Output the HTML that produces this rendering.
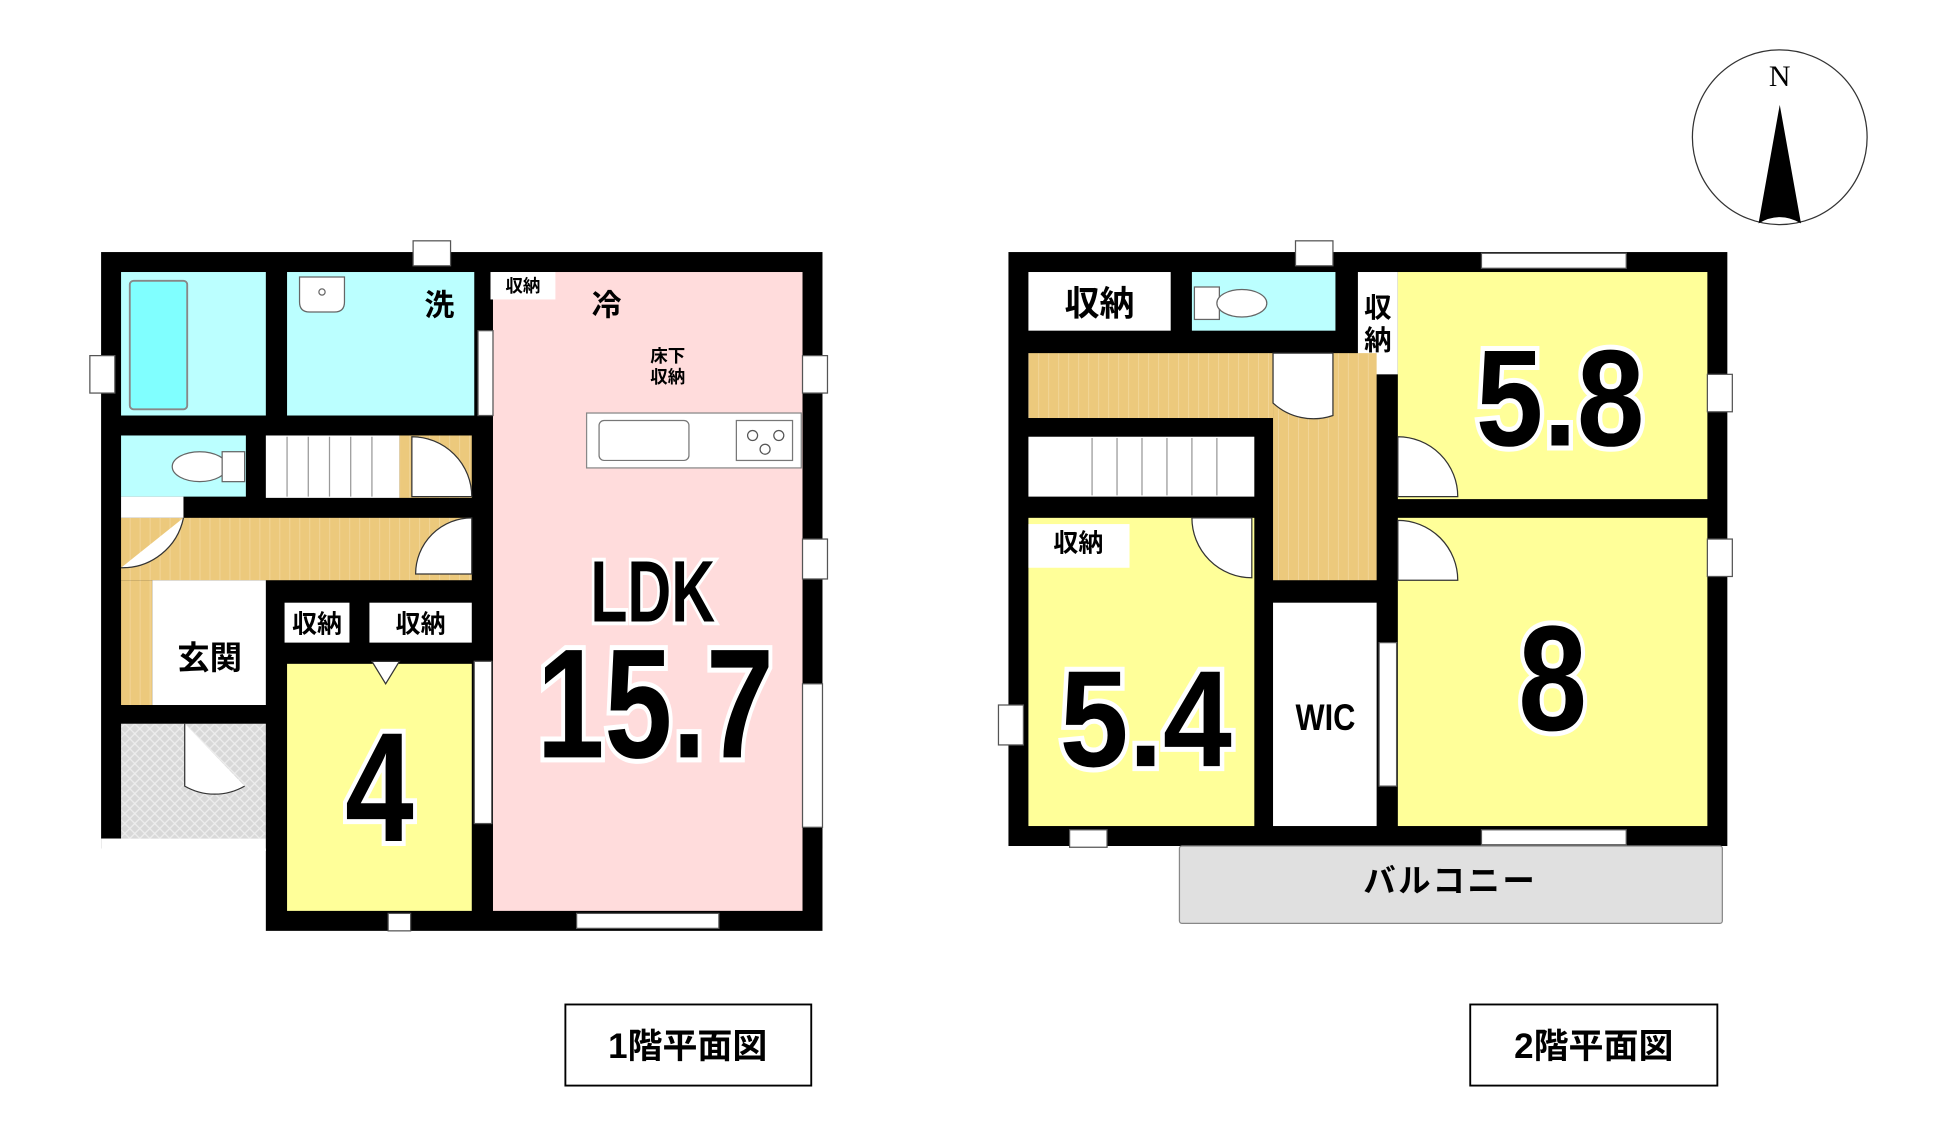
<!DOCTYPE html>
<html><head><meta charset="utf-8"><style>
html,body{margin:0;padding:0;background:#fff;}
svg{display:block;}
text{font-family:"Liberation Sans","Noto Sans CJK JP",sans-serif;font-weight:bold;}
</style></head><body>
<svg width="1947" height="1133" viewBox="0 0 1560 908" preserveAspectRatio="none" xmlns="http://www.w3.org/2000/svg">
<defs>
<pattern id="wood" width="8" height="8" patternUnits="userSpaceOnUse"><rect width="8" height="8" fill="#ecc97c"/><line x1="0" y1="0" x2="0" y2="8" stroke="#f5dca8" stroke-width="1"/></pattern>
<pattern id="hatch" width="8" height="8" patternUnits="userSpaceOnUse"><rect width="8" height="8" fill="#d8d8d8"/><path d="M0 0L8 8M8 0L0 8" stroke="#eee" stroke-width="1"/></pattern>
</defs>
<!-- ===== Floor 1 ===== -->
<rect x="81" y="202" width="578" height="478" fill="#000"/>
<rect x="213" y="600" width="446" height="146" fill="#000"/>
<rect x="97" y="580" width="116" height="92" fill="url(#hatch)"/>
<rect x="81" y="672" width="132" height="10" fill="#fff"/>
<rect x="97" y="218" width="116" height="115" fill="#bff"/>
<rect x="104" y="225" width="46" height="103" fill="#80ffff" stroke="#888" stroke-width="1.5" rx="3"/>
<rect x="230" y="218" width="150" height="115" fill="#bff"/>
<path d="M240 222h36v20q0 8-8 8h-20q-8 0-8-8z" fill="#fff" stroke="#666"/><circle cx="258" cy="234" r="2.5" fill="none" stroke="#666"/>
<rect x="395" y="218" width="248" height="512" fill="#ffdcdc"/>
<rect x="393" y="218" width="52" height="22" fill="#fff"/><text x="419" y="234" font-size="14" text-anchor="middle">収納</text>
<text x="352" y="253" font-size="24" text-anchor="middle" fill="#000">洗</text>
<text x="486" y="253" font-size="24" text-anchor="middle">冷</text>
<text x="535" y="290" font-size="14" text-anchor="middle">床下</text>
<text x="535" y="307" font-size="14" text-anchor="middle">収納</text>
<rect x="470" y="331" width="172" height="44" fill="#fff" stroke="#888"/>
<rect x="480" y="337" width="72" height="32" rx="4" fill="#fff" stroke="#777"/>
<rect x="590" y="337" width="45" height="32" fill="#fff" stroke="#777"/>
<circle cx="603" cy="349" r="4" fill="none" stroke="#555"/><circle cx="624" cy="349" r="4" fill="none" stroke="#555"/><circle cx="613" cy="360" r="4" fill="none" stroke="#555"/>
<rect x="97" y="349" width="100" height="49" fill="#bff"/>
<ellipse cx="160" cy="374" rx="22" ry="12" fill="#fff" stroke="#666"/><rect x="178" y="362" width="18" height="24" fill="#fff" stroke="#666"/>
<rect x="213" y="349" width="107" height="50" fill="#fff"/>
<g stroke="#999"><line x1="230" y1="350" x2="230" y2="398"/><line x1="247" y1="350" x2="247" y2="398"/><line x1="264" y1="350" x2="264" y2="398"/><line x1="281" y1="350" x2="281" y2="398"/><line x1="298" y1="350" x2="298" y2="398"/></g>
<rect x="320" y="349" width="58" height="50" fill="url(#wood)"/>
<rect x="97" y="415" width="281" height="50" fill="url(#wood)"/>
<rect x="97" y="465" width="25" height="100" fill="url(#wood)"/>
<rect x="97" y="398" width="50" height="17" fill="#fff"/>
<path d="M147 415a50 50 0 0 1-50 40" fill="#fff" stroke="#333"/>
<path d="M330 350a48 48 0 0 1 48 48h-48z" fill="#fff" stroke="#333"/>
<path d="M378 415a45 45 0 0 0-45 45h45z" fill="#fff" stroke="#333"/>
<rect x="122" y="465" width="91" height="100" fill="#fff"/>
<text x="168" y="536" font-size="26" text-anchor="middle">玄関</text>
<path d="M148 580v50a48 48 0 0 0 48 0" fill="#fff" stroke="#333"/>
<rect x="228" y="483" width="52" height="32" fill="#fff"/><text x="254" y="507" font-size="20" text-anchor="middle">収納</text>
<rect x="296" y="483" width="82" height="32" fill="#fff"/><text x="337" y="507" font-size="20" text-anchor="middle">収納</text>
<rect x="230" y="532" width="148" height="198" fill="#ffff99"/>
<path d="M298 530h22l-11 18z" fill="#fff" stroke="#333"/>
<rect x="380" y="530" width="14" height="130" fill="#fff" stroke="#555"/>
<text x="304" y="674" font-size="125" text-anchor="middle" stroke="#fff" stroke-width="8" paint-order="stroke" textLength="55" lengthAdjust="spacingAndGlyphs">4</text>
<text x="523" y="498" font-size="70" text-anchor="middle" stroke="#fff" stroke-width="6" paint-order="stroke" textLength="100" lengthAdjust="spacingAndGlyphs">LDK</text>
<text x="525" y="607" font-size="125" text-anchor="middle" stroke="#fff" stroke-width="8" paint-order="stroke" textLength="190" lengthAdjust="spacingAndGlyphs">15.7</text>
<!-- windows floor 1 -->
<rect x="331" y="193" width="30" height="20" fill="#fff" stroke="#555"/>
<rect x="643" y="285" width="20" height="30" fill="#fff" stroke="#555"/>
<rect x="643" y="432" width="20" height="32" fill="#fff" stroke="#555"/>
<rect x="643" y="548" width="16" height="115" fill="#fff" stroke="#555"/>
<rect x="72" y="285" width="20" height="30" fill="#fff" stroke="#555"/>
<rect x="462" y="732" width="114" height="12" fill="#fff" stroke="#555"/>
<rect x="311" y="732" width="18" height="14" fill="#fff" stroke="#555"/>
<rect x="383" y="265" width="12" height="68" fill="#fff" stroke="#555"/>
<!-- ===== Floor 2 ===== -->
<rect x="808" y="202" width="576" height="476" fill="#000"/>
<rect x="824" y="218" width="114" height="47" fill="#fff"/><text x="881" y="253" font-size="28" text-anchor="middle">収納</text>
<rect x="955" y="218" width="115" height="47" fill="#bff"/>
<rect x="957" y="230" width="20" height="26" fill="#fff" stroke="#666"/><ellipse cx="995" cy="243" rx="20" ry="11" fill="#fff" stroke="#666"/>
<rect x="1088" y="218" width="32" height="82" fill="#fff"/><text x="1104" y="254" font-size="22" text-anchor="middle">収</text><text x="1104" y="280" font-size="22" text-anchor="middle">納</text>
<rect x="1120" y="218" width="248" height="182" fill="#ffff99"/>
<rect x="1120" y="415" width="248" height="247" fill="#ffff99"/>
<rect x="824" y="283" width="196" height="52" fill="url(#wood)"/>
<rect x="1020" y="283" width="83" height="182" fill="url(#wood)"/>
<path d="M1020 283v40a48 48 0 0 0 48 10v-50z" fill="#fff" stroke="#333"/>
<rect x="824" y="350" width="181" height="48" fill="#fff"/>
<g stroke="#999"><line x1="875" y1="351" x2="875" y2="397"/><line x1="895" y1="351" x2="895" y2="397"/><line x1="915" y1="351" x2="915" y2="397"/><line x1="935" y1="351" x2="935" y2="397"/><line x1="955" y1="351" x2="955" y2="397"/><line x1="975" y1="351" x2="975" y2="397"/></g>
<rect x="824" y="415" width="181" height="247" fill="#ffff99"/>
<rect x="824" y="420" width="81" height="35" fill="#fff"/><text x="864" y="442" font-size="20" text-anchor="middle">収納</text>
<path d="M955 415a48 48 0 0 0 48 48v-48z" fill="#fff" stroke="#333"/>
<path d="M1120 350a48 48 0 0 1 48 48h-48z" fill="#fff" stroke="#333"/>
<path d="M1120 417a48 48 0 0 1 48 48h-48z" fill="#fff" stroke="#333"/>
<rect x="1020" y="483" width="83" height="179" fill="#fff"/>
<text x="1062" y="585" font-size="30" text-anchor="middle" textLength="48" lengthAdjust="spacingAndGlyphs">WIC</text>
<rect x="1105" y="515" width="14" height="115" fill="#fff" stroke="#555"/>
<text x="1250" y="357" font-size="110" text-anchor="middle" stroke="#fff" stroke-width="8" paint-order="stroke" textLength="135" lengthAdjust="spacingAndGlyphs">5.8</text>
<text x="1244" y="585" font-size="120" text-anchor="middle" stroke="#fff" stroke-width="8" paint-order="stroke" textLength="55" lengthAdjust="spacingAndGlyphs">8</text>
<text x="918" y="614" font-size="110" text-anchor="middle" stroke="#fff" stroke-width="8" paint-order="stroke" textLength="138" lengthAdjust="spacingAndGlyphs">5.4</text>
<rect x="1038" y="193" width="30" height="20" fill="#fff" stroke="#555"/>
<rect x="1187" y="203" width="116" height="12" fill="#fff" stroke="#555"/>
<rect x="1187" y="665" width="116" height="12" fill="#fff" stroke="#555"/>
<rect x="1368" y="300" width="20" height="30" fill="#fff" stroke="#555"/>
<rect x="1368" y="432" width="20" height="30" fill="#fff" stroke="#555"/>
<rect x="800" y="565" width="20" height="32" fill="#fff" stroke="#555"/>
<rect x="857" y="665" width="30" height="14" fill="#fff" stroke="#555"/>
<rect x="945" y="678" width="435" height="62" fill="#e0e0e0" stroke="#888" rx="2"/>
<text x="1162" y="715" font-size="26" text-anchor="middle" letter-spacing="2">バルコニー</text>
<!-- compass -->
<ellipse cx="1426" cy="110" rx="70" ry="70" fill="#fff" stroke="#333"/>
<text x="1426" y="69" font-size="24" text-anchor="middle" style="font-family:'Liberation Serif',serif;font-weight:normal">N</text>
<path d="M1426 84l-17 95q17-10 34 0z" fill="#000"/>
<!-- titles -->
<rect x="453" y="805" width="197" height="65" fill="#fff" stroke="#000" stroke-width="1.5"/>
<text x="551" y="848" font-size="28" text-anchor="middle">1階平面図</text>
<rect x="1178" y="805" width="198" height="65" fill="#fff" stroke="#000" stroke-width="1.5"/>
<text x="1277" y="848" font-size="28" text-anchor="middle">2階平面図</text>
</svg>
</body></html>
